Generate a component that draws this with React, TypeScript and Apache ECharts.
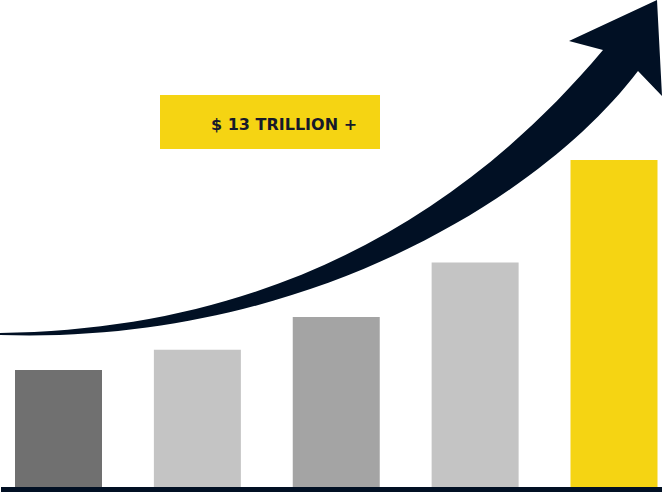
import React, { useEffect, useRef } from "react";
import * as echarts from "echarts";

const categories = ["Stage 1", "Stage 2", "Stage 3", "Stage 4", "Stage 5"];
const values = [4.7, 5.5, 6.8, 8.95, 13];
const barColors = ["#707070", "#c4c4c4", "#a4a4a4", "#c4c4c4", "#f5d413"];
const calloutText = "$ 13 TRILLION +";

const arrowPath =
  "M 0 333 C 250 330 450 232 603 50 L 569 41 L 657 0 L 662 96 L 638 71 C 540 200 300 345 0 335 Z";

export default function App() {
  const ref = useRef<HTMLDivElement>(null);
  useEffect(() => {
    if (!ref.current) return;
    echarts.graphic.registerShape("growthArrow", echarts.graphic.extendPath(arrowPath, {}));
    const chart = echarts.init(ref.current, null, { renderer: "svg" });
    chart.setOption({
      animation: false,
      grid: { left: 58.5, right: 663 - 614, top: 160, bottom: 4, containLabel: false },
      xAxis: {
        type: "category",
        data: categories,
        boundaryGap: false,
        axisLine: { show: false },
        axisTick: { show: false },
        axisLabel: { show: false },
        splitLine: { show: false },
      },
      yAxis: {
        type: "value",
        min: 0,
        max: 13,
        show: false,
        splitLine: { show: false },
      },
      series: [
        {
          type: "bar",
          barWidth: 87,
          data: values.map((v, i) => ({ value: v, itemStyle: { color: barColors[i] } })),
        },
      ],
      graphic: [
        {
          type: "growthArrow",
          x: 0,
          y: 0,
          z: 10,
          shape: {},
          style: { fill: "#011024" },
        },
        {
          type: "line",
          z: 10,
          shape: { x1: 1, y1: 489.5, x2: 662, y2: 489.5 },
          style: { stroke: "#011024", lineWidth: 5 },
        },
        {
          type: "rect",
          z: 10,
          shape: { x: 160, y: 95, width: 220, height: 54 },
          style: { fill: "#f5d413" },
        },
        {
          type: "text",
          z: 11,
          x: 211,
          y: 124,
          style: {
            text: calloutText,
            fill: "#16192a",
            font: "bold 16px 'DejaVu Sans'",
            textVerticalAlign: "middle",
            verticalAlign: "middle",
          },
        },
      ],
    });
    return () => chart.dispose();
  }, []);
  return (
    <div
      ref={ref}
      style={{ position: "absolute", left: 0, top: 0, width: 663, height: 493 }}
    />
  );
}
